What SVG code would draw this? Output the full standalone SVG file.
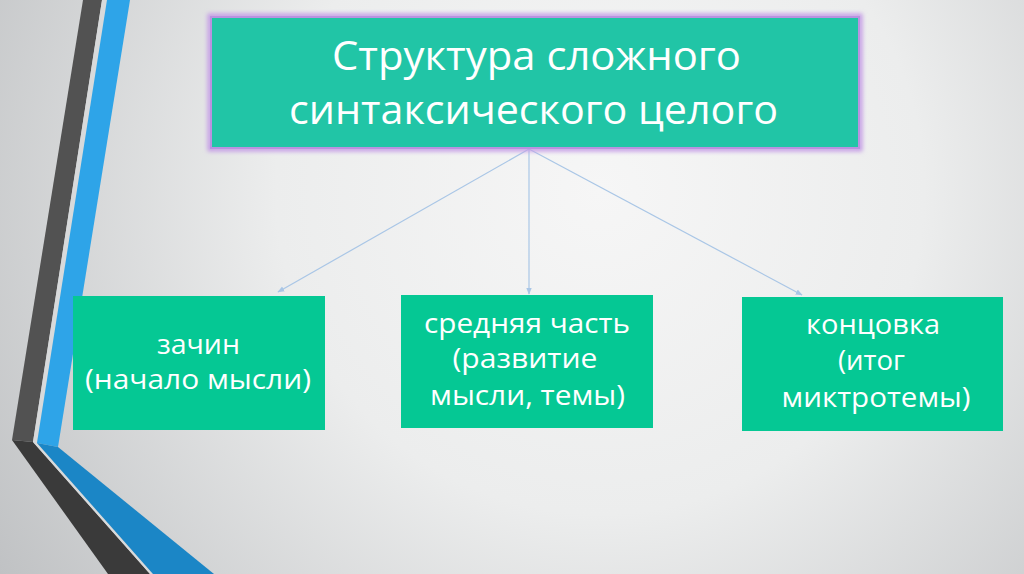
<svg xmlns="http://www.w3.org/2000/svg" width="1024" height="574" viewBox="0 0 1024 574">
<defs>
<radialGradient id="bg" cx="600" cy="190" r="720" gradientUnits="userSpaceOnUse">
<stop offset="0" stop-color="#f6f6f6"/>
<stop offset="0.45" stop-color="#eceded"/>
<stop offset="1" stop-color="#bfc1c3"/>
</radialGradient>
<filter id="glow" x="-5%" y="-10%" width="110%" height="120%">
<feGaussianBlur stdDeviation="2"/>
</filter>
<marker id="ah" viewBox="0 0 10 10" refX="9" refY="5" markerWidth="7" markerHeight="7" orient="auto" markerUnits="userSpaceOnUse">
<path d="M0,1 L10,5 L0,9 z" fill="#a9c6e6"/>
</marker>
<style>
.title{font-family:"Open Sans","Noto Sans","DejaVu Sans",sans-serif;font-size:40px;fill:#ffffff;text-anchor:middle}
.lbl{font-family:"Open Sans","Noto Sans","DejaVu Sans",sans-serif;font-size:27px;fill:#ffffff;text-anchor:middle}
.box{fill:#05c894}
.conn{stroke:#a9c6e6;stroke-width:1.2;fill:none;marker-end:url(#ah)}
</style>
</defs>
<rect width="1024" height="574" fill="url(#bg)"/>
<g id="decor">
<polygon points="83,0 102,0 33,442 12,440" fill="#525252"/>
<polygon points="12,440 33,442 150,574 108,574" fill="#3a3a3a"/>
<polygon points="102,0 107,0 37,443 33,442" fill="#d8dadb"/>
<polygon points="33,442 37,443 153,574 150,574" fill="#d8dadb"/>
<polygon points="107,0 130,0 58,447 37,443" fill="#2ea4e8"/>
<polygon points="37,443 58,447 214,574 153,574" fill="#1b86c6"/>
</g>
<g id="connectors">
<line class="conn" x1="529" y1="149" x2="278" y2="292"/>
<line class="conn" x1="529" y1="149" x2="529" y2="294"/>
<line class="conn" x1="529" y1="149" x2="802" y2="295"/>
</g>
<g id="node-title">
<rect x="210" y="16" width="650" height="133" fill="none" stroke="#c49be6" stroke-width="5" filter="url(#glow)"/>
<rect x="211" y="17" width="648" height="131" fill="#21c5a6" stroke="#b992e0" stroke-width="2"/>
<text class="title" x="536.5" y="70" textLength="409" lengthAdjust="spacingAndGlyphs">Структура сложного</text>
<text class="title" x="533.5" y="124" textLength="489" lengthAdjust="spacingAndGlyphs">синтаксического целого</text>
</g>
<g id="node-zachin">
<rect class="box" x="73" y="296" width="252" height="134"/>
<text class="lbl" x="198.5" y="354" textLength="83" lengthAdjust="spacingAndGlyphs">зачин</text>
<text class="lbl" x="198" y="389" textLength="226" lengthAdjust="spacingAndGlyphs">(начало мысли)</text>
</g>
<g id="node-middle">
<rect class="box" x="401" y="295" width="252" height="133"/>
<text class="lbl" x="527" y="333" textLength="206" lengthAdjust="spacingAndGlyphs">средняя часть</text>
<text class="lbl" x="525" y="368" textLength="145" lengthAdjust="spacingAndGlyphs">(развитие</text>
<text class="lbl" x="527.5" y="405" textLength="195" lengthAdjust="spacingAndGlyphs">мысли, темы)</text>
</g>
<g id="node-end">
<rect class="box" x="742" y="297" width="261" height="134"/>
<text class="lbl" x="873" y="334" textLength="134" lengthAdjust="spacingAndGlyphs">концовка</text>
<text class="lbl" x="871.5" y="370" textLength="67" lengthAdjust="spacingAndGlyphs">(итог</text>
<text class="lbl" x="876" y="407" textLength="189" lengthAdjust="spacingAndGlyphs">миктротемы)</text>
</g>
</svg>
